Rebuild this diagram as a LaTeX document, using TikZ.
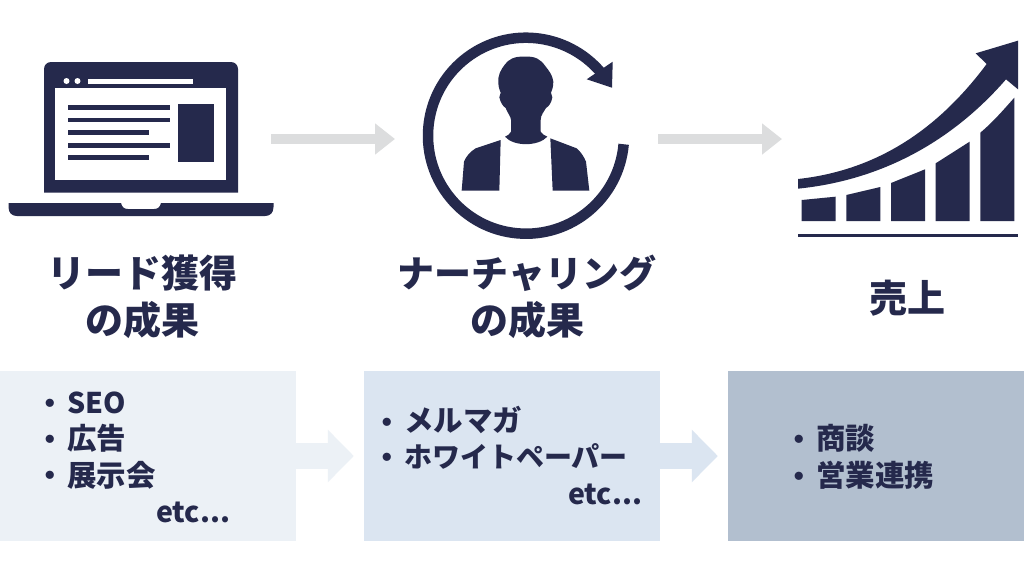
\documentclass[tikz,border=0pt]{standalone}
\usepackage{fontspec}
\newfontfamily\cjk{Noto Sans CJK JP}
\usetikzlibrary{arrows.meta,calc}
\definecolor{navy}{HTML}{25294C}
\definecolor{boxa}{HTML}{ECF1F6}
\definecolor{boxb}{HTML}{DBE5F1}
\definecolor{boxc}{HTML}{B2BFCF}
\definecolor{arrowgray}{HTML}{DCDDDE}
\tikzset{
  head/.style={font=\cjk\bfseries\fontsize{38}{42}\selectfont,text=navy,inner sep=0pt,anchor=center},
  headkana/.style={head,font=\cjk\bfseries\fontsize{37}{42}\selectfont},
  item/.style={font=\cjk\bfseries\fontsize{29.5}{33}\selectfont,text=navy,inner sep=0pt,anchor=west},
  itemlatin/.style={item,font=\cjk\bfseries\fontsize{28.5}{33}\selectfont},
  itemlong/.style={item,font=\cjk\bfseries\fontsize{28}{33}\selectfont},
  bullet/.style={item,anchor=center},
  panel/.style={minimum width=296pt,minimum height=170pt,inner sep=0pt,draw=none},
  bigarrow/.style={draw=arrowgray,line width=10pt,-{Triangle[length=20pt,width=30pt]}},
  panelarrow/.style={line width=26.5pt,shorten >=10pt,-{Triangle[length=26pt,width=51pt]}},
  icon/.style={fill=navy,draw=none},
  hole/.style={fill=white,draw=none}
}
\begin{document}
\begin{tikzpicture}[x=1pt,y=-1pt]
\useasboundingbox[fill=white] (0,0) rectangle (1024,576);
% panels
\node[panel,fill=boxa] (p1) at (148,456) {};
\node[panel,fill=boxb] (p2) at (512,456) {};
\node[panel,fill=boxc] (p3) at (876,456) {};
\draw[panelarrow,draw=boxa] (p1.east) -- (p2.west);
\draw[panelarrow,draw=boxb] (p2.east) -- (p3.west);
% big arrows
\coordinate (a1s) at (271,139); \coordinate (a1e) at (395,139);
\coordinate (a2s) at (658,139); \coordinate (a2e) at (782,139);
\draw[bigarrow] (a1s) -- (a1e);
\draw[bigarrow] (a2s) -- (a2e);
% laptop
\fill[icon] (44,192.5) -- (44,69) arc[start angle=180,end angle=270,radius=7] -- (231,62) arc[start angle=270,end angle=360,radius=7] -- (238,192.5) -- cycle;
\fill[hole] (55,88) rectangle (226,179.5);
\fill[hole] (66.5,81) circle[radius=3];
\fill[hole] (77.5,81) circle[radius=3];
\fill[hole] (87.5,78.5) rectangle (193,84);
\fill[icon] (67.5,105) rectangle (169.5,109.5);
\fill[icon] (67.5,117.5) rectangle (169.5,122);
\fill[icon] (67.5,130) rectangle (148.5,135);
\fill[icon] (67.5,142.5) rectangle (169.5,147.5);
\fill[icon] (67.5,155) rectangle (148.5,160);
\fill[icon] (178,104) rectangle (214,162);
\fill[icon] (8.5,203) -- (121,203) .. controls (122,207) and (124,209) .. (128,209) -- (154,209) .. controls (158,209) and (160,207) .. (161,203) -- (273.5,203) -- (273.5,207) .. controls (273.5,213) and (270,216) .. (265,216) -- (17,216) .. controls (12,216) and (8.5,213) .. (8.5,207) -- cycle;
% cycle ring
\draw[navy,line width=10.5pt] ($(526,135.7)+(5:98)$) arc[start angle=5,end angle=319,radius=98];
\fill[icon] (612.7,61.7) -- (612,87.7) -- (586.7,79.3) -- cycle;
% person
\begin{scope}[shift={(410,20)},x=0.33333pt,y=-0.33333pt]
\fill[icon] (345,110) .. controls (310,108) and (295,120) .. (285,133) .. controls (272,150) and (263,165) .. (265,190) .. controls (266,205) and (270,212) .. (272,218) -- (268,232) .. controls (272,248) and (278,258) .. (287,264) .. controls (293,280) and (303,290) .. (303,300) -- (303,335) .. controls (300,342) and (292,348) .. (285,350) .. controls (310,380) and (385,380) .. (412,350) .. controls (405,347) and (395,342) .. (392,335) -- (392,300) .. controls (392,285) and (402,275) .. (408,264) .. controls (418,258) and (424,248) .. (427,232) -- (423,218) .. controls (428,205) and (431,195) .. (430,185) .. controls (428,165) and (415,150) .. (405,137) .. controls (392,118) and (375,108) .. (345,110) -- cycle;
\fill[icon] (272,360) -- (268,512) -- (155,512) -- (162,425) .. controls (168,410) and (180,395) .. (197,385) -- cycle;
\fill[icon] (421,355) -- (428,512) -- (538,512) -- (528,425) .. controls (522,410) and (512,395) .. (500,385) -- cycle;
\end{scope}
% chart
\begin{scope}[shift={(780,30)},x=0.33333pt,y=-0.33333pt]
\fill[icon] (65,510) -- (167,500) -- (167,573) -- (65,573) -- cycle;
\fill[icon] (199,495) -- (301,471) -- (301,573) -- (199,573) -- cycle;
\fill[icon] (333,459) -- (435,418) -- (435,573) -- (333,573) -- cycle;
\fill[icon] (467,400) -- (569,335) -- (569,573) -- (467,573) -- cycle;
\fill[icon] (601,308) .. controls (640,275) and (670,240) .. (703,203) -- (703,573) -- (601,573) -- cycle;
\fill[icon] (54,611) rectangle (714,622);
\fill[icon] (54,447) .. controls (300,420) and (480,290) .. (620,102) -- (587,70) -- (714,32) -- (714,178) -- (678,148) .. controls (520,330) and (310,450) .. (54,476) -- cycle;
\end{scope}
% headings
\node[head] (h1a) at (142,273) {リード獲得};
\node[head] (h1b) at (142,320) {の成果};
\node[headkana] (h2a) at (527,273) {ナーチャリング};
\node[head] (h2b) at (527,320) {の成果};
\node[head] (h3) at (907,298) {売上};
% lists
\node[bullet] (b11) at (50.5,407) {・};
\node[itemlatin] (t11) at (67,402.5) {SEO};
\node[bullet] (b12) at (50.5,442.5) {・};
\node[item] (t12) at (67,438.5) {広告};
\node[bullet] (b13) at (50.5,478.5) {・};
\node[item] (t13) at (67,475) {展示会};
\node[itemlatin] (t14) at (156,512) {etc...};
\node[bullet] (b21) at (387,425.5) {・};
\node[item] (t21) at (404,420) {メルマガ};
\node[bullet] (b22) at (387,461) {・};
\node[itemlong] (t22) at (404,456) {ホワイトペーパー};
\node[itemlatin] (t23) at (568,494) {etc...};
\node[bullet] (b31) at (799,442.5) {・};
\node[item] (t31) at (816,438) {商談};
\node[bullet] (b32) at (799,479.5) {・};
\node[item] (t32) at (816,475) {営業連携};
\end{tikzpicture}
\end{document}
